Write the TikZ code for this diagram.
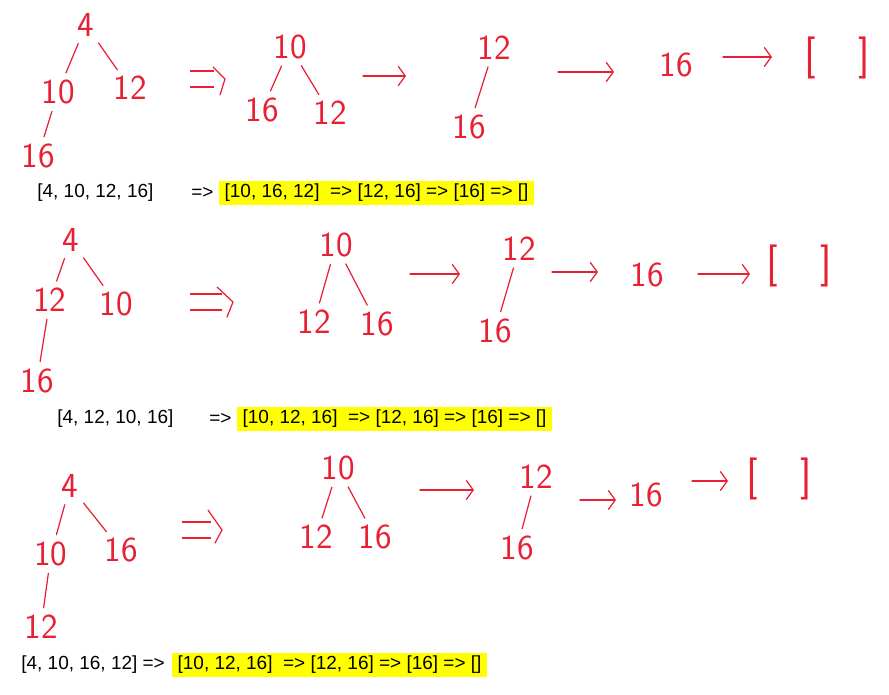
\documentclass[tikz,border=0pt]{standalone}
\usepackage{fontspec}
\setmainfont{Liberation Sans}
\usepackage{tikz}
\usetikzlibrary{arrows.meta}
\usepackage{xcolor}
\definecolor{inkred}{RGB}{232,32,52}
\definecolor{marker}{RGB}{255,255,0}

\begin{document}
\begin{tikzpicture}[
  x=0.02cm, y=-0.02cm,
  key/.style={
    text=inkred, inner sep=1pt,
    font=\fontsize{20}{20}\selectfont\sffamily
  },
  empty/.style={key, font=\fontsize{24}{24}\selectfont\sffamily},
  branch/.style={draw=inkred, line width=0.7pt, line cap=round, shorten <=3pt, shorten >=3pt},
  pen/.style={draw=inkred, line width=0.7pt, line cap=round, -{Straight Barb[length=4pt, width=11pt]}},
  twin/.style={draw=inkred, line width=0.7pt, double, double distance=8.5pt, shorten >=6.5pt},
  hook/.style={draw=inkred, line width=0.7pt, line cap=round, line join=round},
  plain/.style={font=\fontsize{10.8}{13}\selectfont, inner sep=0pt, anchor=west},
  hl/.style={plain, fill=marker, inner xsep=3pt, minimum height=13.8pt}
]
\useasboundingbox (0,0) rectangle (889,694);

% --- Pierwszy kopiec: [4, 10, 12, 16] ---
\node[key] (r1a4)  at (86,25)  {4};
\node[key] (r1a10) at (58,92)  {10};
\node[key] (r1a12) at (130,88) {12};
\node[key] (r1a16) at (38,156) {16};
\draw[branch] (r1a4) -- (r1a10);
\draw[branch] (r1a4) -- (r1a12);
\draw[branch] (r1a10) -- (r1a16);

\coordinate (r1s1) at (190,79);
\coordinate (r1t1) at (225,79);
\draw[twin] (r1s1) -- (r1t1);
\draw[hook] ([shift={(-12,-12)}]r1t1) -- (r1t1) -- ([shift={(-5,16)}]r1t1);

\node[key] (r1b10) at (290,47)  {10};
\node[key] (r1b16) at (262,110) {16};
\node[key] (r1b12) at (330,113) {12};
\draw[branch] (r1b10) -- (r1b16);
\draw[branch] (r1b10) -- (r1b12);

\coordinate (r1s2) at (363,76);
\coordinate (r1t2) at (406,76);
\draw[pen] (r1s2) -- (r1t2);

\node[key] (r1c12) at (494,48)  {12};
\node[key] (r1c16) at (469,127) {16};
\draw[branch] (r1c12) -- (r1c16);

\coordinate (r1s3) at (558,72);
\coordinate (r1t3) at (614,72);
\draw[pen] (r1s3) -- (r1t3);

\node[key] (r1d16) at (676,65) {16};

\coordinate (r1s4) at (723,57);
\coordinate (r1t4) at (772,57);
\draw[pen] (r1s4) -- (r1t4);

\node[empty] (r1e) at (837,58) {[\hspace{1em}]};

\node[plain] (r1in)  at (37,193)  {[4, 10, 12, 16]};
\node[plain] (r1to)  at (191,193) {=>};
\node[hl]    (r1out) at (219,193) {[10, 16, 12]\ \ => [12, 16] => [16] => []};

% --- Drugi kopiec: [4, 12, 10, 16] ---
\node[key] (r2a4)  at (71,240)  {4};
\node[key] (r2a12) at (50,300)  {12};
\node[key] (r2a10) at (116,304) {10};
\node[key] (r2a16) at (37,381)  {16};
\draw[branch] (r2a4) -- (r2a12);
\draw[branch] (r2a4) -- (r2a10);
\draw[branch] (r2a12) -- (r2a16);

\coordinate (r2s1) at (190,302);
\coordinate (r2t1) at (233,302);
\draw[twin] (r2s1) -- (r2t1);
\draw[hook] ([shift={(-16,-15)}]r2t1) -- (r2t1) -- ([shift={(-6,15)}]r2t1);

\node[key] (r2b10) at (336,245) {10};
\node[key] (r2b12) at (314,322) {12};
\node[key] (r2b16) at (377,324) {16};
\draw[branch] (r2b10) -- (r2b12);
\draw[branch] (r2b10) -- (r2b16);

\coordinate (r2s2) at (410,274);
\coordinate (r2t2) at (460,274);
\draw[pen] (r2s2) -- (r2t2);

\node[key] (r2c12) at (519,249) {12};
\node[key] (r2c16) at (495,331) {16};
\draw[branch] (r2c12) -- (r2c16);

\coordinate (r2s3) at (552,272);
\coordinate (r2t3) at (598,272);
\draw[pen] (r2s3) -- (r2t3);

\node[key] (r2d16) at (647,275) {16};

\coordinate (r2s4) at (698,274);
\coordinate (r2t4) at (750,274);
\draw[pen] (r2s4) -- (r2t4);

\node[empty] (r2e) at (799,266) {[\hspace{1em}]};

\node[plain] (r2in)  at (57,419)  {[4, 12, 10, 16]};
\node[plain] (r2to)  at (209,419) {=>};
\node[hl]    (r2out) at (237,419) {[10, 12, 16]\ \ => [12, 16] => [16] => []};

% --- Trzeci kopiec: [4, 10, 16, 12] ---
\node[key] (r3a4)  at (70,486)  {4};
\node[key] (r3a10) at (51,554)  {10};
\node[key] (r3a16) at (121,550) {16};
\node[key] (r3a12) at (41,627)  {12};
\draw[branch] (r3a4) -- (r3a10);
\draw[branch] (r3a4) -- (r3a16);
\draw[branch] (r3a10) -- (r3a12);

\coordinate (r3s1) at (182,530);
\coordinate (r3t1) at (222,530);
\draw[twin] (r3s1) -- (r3t1);
\draw[hook] ([shift={(-14,-20)}]r3t1) -- (r3t1) -- ([shift={(-7,13)}]r3t1);

\node[key] (r3b10) at (338,468) {10};
\node[key] (r3b12) at (316,537) {12};
\node[key] (r3b16) at (375,537) {16};
\draw[branch] (r3b10) -- (r3b12);
\draw[branch] (r3b10) -- (r3b16);

\coordinate (r3s2) at (420,490);
\coordinate (r3t2) at (474,490);
\draw[pen] (r3s2) -- (r3t2);

\node[key] (r3c12) at (536,477) {12};
\node[key] (r3c16) at (517,548) {16};
\draw[branch] (r3c12) -- (r3c16);

\coordinate (r3s3) at (580,500);
\coordinate (r3t3) at (616,500);
\draw[pen] (r3s3) -- (r3t3);

\node[key] (r3d16) at (646,495) {16};

\coordinate (r3s4) at (692,481);
\coordinate (r3t4) at (728,481);
\draw[pen] (r3s4) -- (r3t4);

\node[empty] (r3e) at (779,479) {[\hspace{1em}]};

\node[plain] (r3in)  at (21,665)  {[4, 10, 16, 12] =>};
\node[hl]    (r3out) at (172,665) {[10, 12, 16]\ \ => [12, 16] => [16] => []};

\end{tikzpicture}
\end{document}
